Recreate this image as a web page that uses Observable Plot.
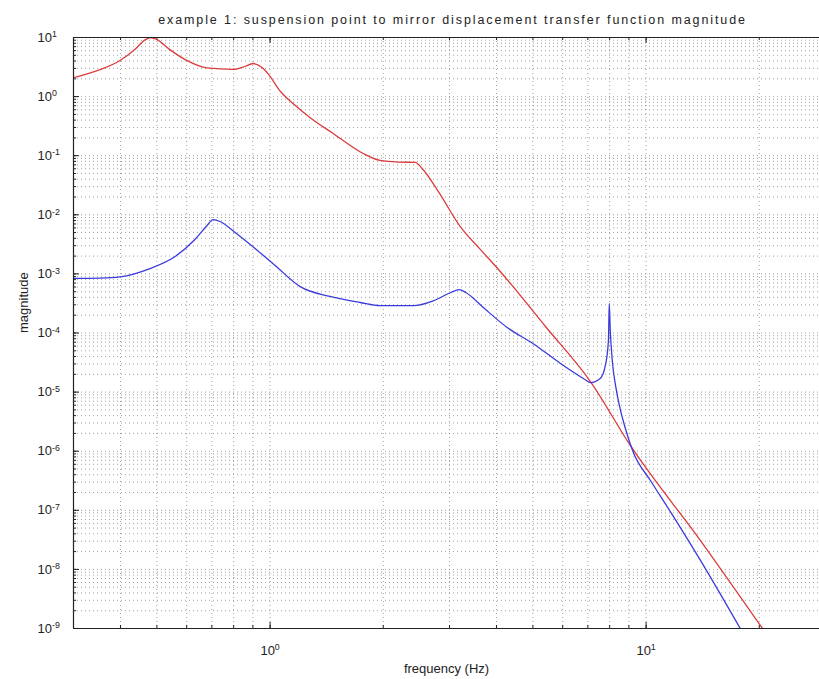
<!DOCTYPE html>
<html><head><meta charset="utf-8">
<script src="https://cdn.jsdelivr.net/npm/d3@7"></script>
<script src="https://cdn.jsdelivr.net/npm/@observablehq/plot@0.6"></script>
<style>body{margin:0;background:#fff}</style>
</head><body><div id="chart"></div>
<script>
const title = "example 1: suspension point to mirror displacement transfer function magnitude";
const xLabel = "frequency (Hz)";
const yLabel = "magnitude";
const xDomain = [0.3, 30];
const yDomain = [1e-9, 10];
const xTickValues = [1, 10];
const yTickValues = [1e-9, 1e-8, 1e-7, 1e-6, 1e-5, 1e-4, 1e-3, 1e-2, 1e-1, 1, 10];

// red curve
const redFreq = [0.299, 0.353, 0.399, 0.436, 0.466, 0.481, 0.499, 0.540, 0.600, 0.680, 0.797, 0.858, 0.901, 0.952, 0.987, 1.067, 1.151, 1.278, 1.471, 1.767, 1.962, 2.19, 2.432, 2.54, 2.80, 3.205, 3.622, 4.093, 5.40, 7.11, 9.08, 13.95, 20.4];
const redMag = [2.07, 2.85, 4.08, 6.2, 9.2, 10.0, 9.3, 6.3, 4.1, 3.05, 2.88, 3.23, 3.63, 3.11, 2.45, 1.21, 0.764, 0.44, 0.238, 0.109, 0.083, 0.078, 0.077, 0.060, 0.025, 0.0063, 0.0026, 0.00110, 1.29e-4, 1.51e-5, 1.25e-6, 3.08e-8, 1e-9];

// blue curve
const blueFreq = [0.299, 0.353, 0.399, 0.479, 0.559, 0.631, 0.680, 0.705, 0.736, 0.807, 0.912, 1.031, 1.202, 1.444, 1.736, 1.962, 2.402, 2.716, 3.014, 3.185, 3.322, 3.69, 4.27, 5.01, 5.92, 6.81, 7.11, 7.55, 7.79, 7.94, 7.98, 8.03, 8.13, 8.34, 8.55, 8.81, 9.25, 10.27, 11.6, 13.95, 17.8];
const blueMag = [8.4e-4, 8.5e-4, 8.9e-4, 1.23e-3, 1.97e-3, 3.82e-3, 6.6e-3, 8.3e-3, 7.7e-3, 5.0e-3, 2.69e-3, 1.39e-3, 6.1e-4, 4.15e-4, 3.28e-4, 2.9e-4, 2.9e-4, 3.5e-4, 4.8e-4, 5.4e-4, 4.8e-4, 2.7e-4, 1.24e-4, 6.6e-5, 3.05e-5, 1.70e-5, 1.45e-5, 1.70e-5, 2.8e-5, 7.5e-5, 3.16e-4, 1.1e-4, 3.4e-5, 1.06e-5, 4.9e-6, 2.42e-6, 9.5e-7, 3.19e-7, 9.5e-8, 1.42e-8, 1e-9];

const red = redFreq.map((f, i) => ({f, m: redMag[i]}));
const blue = blueFreq.map((f, i) => ({f, m: blueMag[i]}));

// grid positions (1..9 per decade)
const xMinor = [];
for (let e = -1; e <= 1; e++) for (let k = 1; k <= 9; k++) { const v = k * 10 ** e; if (v >= 0.3 - 1e-9 && v <= 30 + 1e-9) xMinor.push(+v.toPrecision(3)); }
const yMinor = [];
for (let e = -9; e <= 0; e++) for (let k = 1; k <= 9; k++) yMinor.push(+(k * 10 ** e).toPrecision(3));
yMinor.push(10);

const W = 819, H = 679, ML = 73, MT = 37, MB = 51, MR = 0;
const FW = W - ML - MR, FH = H - MT - MB;
const font = "'Liberation Sans', Arial, sans-serif";
const gridStyle = {stroke: "#8a8a8a", strokeDasharray: "1,3", strokeWidth: 1, strokeOpacity: 0.8};
const fmt = d => `10^${Math.round(Math.log10(d))}`;

const chart = Plot.plot({
  width: W, height: H,
  marginLeft: ML, marginRight: MR, marginTop: MT, marginBottom: MB,
  x: {type: "log", domain: xDomain, range: [ML, 825]},
  y: {type: "log", domain: yDomain},
  style: {fontFamily: font, fontSize: "12px", background: "#fff", color: "#222"},
  marks: [
    Plot.ruleX(xMinor, {...gridStyle}),
    Plot.ruleY(yMinor, {...gridStyle}),
    // inward ticks
    Plot.ruleX(xMinor, {insetTop: FH - 3, stroke: "#222"}),
    Plot.ruleX(xMinor, {insetBottom: FH - 3, stroke: "#222"}),
    Plot.ruleX(xTickValues, {insetTop: FH - 6, stroke: "#222"}),
    Plot.ruleX(xTickValues, {insetBottom: FH - 6, stroke: "#222"}),
    Plot.ruleY(yMinor, {insetRight: FW - 3, stroke: "#222"}),
    Plot.ruleY(yTickValues, {insetRight: FW - 6, stroke: "#222"}),
    Plot.line(red, {x: "f", y: "m", stroke: "#dd3b3b", strokeWidth: 1.3, curve: "monotone-x", clip: true}),
    Plot.line(blue, {x: "f", y: "m", stroke: "#3b3bdd", strokeWidth: 1.3, curve: "monotone-x", clip: true}),
    Plot.ruleX([xDomain[0]], {stroke: "#222", strokeWidth: 1.2}),
    Plot.ruleY(yDomain, {stroke: "#222", strokeWidth: 1.2}),
    Plot.axisX(xTickValues, {anchor: "bottom", tickSize: 0, tickPadding: 17, tickFormat: fmt, label: null, fontSize: 13}),
    Plot.axisY(yTickValues, {anchor: "left", tickSize: 0, tickPadding: 36, textAnchor: "start", tickFormat: fmt, label: null, fontSize: 13}),
    Plot.text([title], {frameAnchor: "top", dy: -22, dx: 6, fontSize: 12.5, fill: "#222", text: d => d}),
    Plot.text([xLabel], {frameAnchor: "bottom", dy: 44, fontSize: 13, fill: "#222", text: d => d}),
    Plot.text([yLabel], {frameAnchor: "left", dx: -50, rotate: -90, fontSize: 13, fill: "#222", text: d => d})
  ]
});

// superscript exponents on tick labels
const NS = "http://www.w3.org/2000/svg";
chart.querySelectorAll("text").forEach(t => {
  const m = t.textContent.match(/^10\^(-?\d+)$/);
  if (m) {
    t.textContent = "10";
    const ts = document.createElementNS(NS, "tspan");
    ts.setAttribute("dy", "-0.5em");
    ts.setAttribute("font-size", "0.68em");
    ts.textContent = m[1];
    t.appendChild(ts);
  }
});
// title letter spacing
chart.querySelectorAll("text").forEach(t => {
  if (t.textContent === title) t.setAttribute("letter-spacing", "1.9");
});
document.getElementById("chart").appendChild(chart);
</script>
</body></html>
